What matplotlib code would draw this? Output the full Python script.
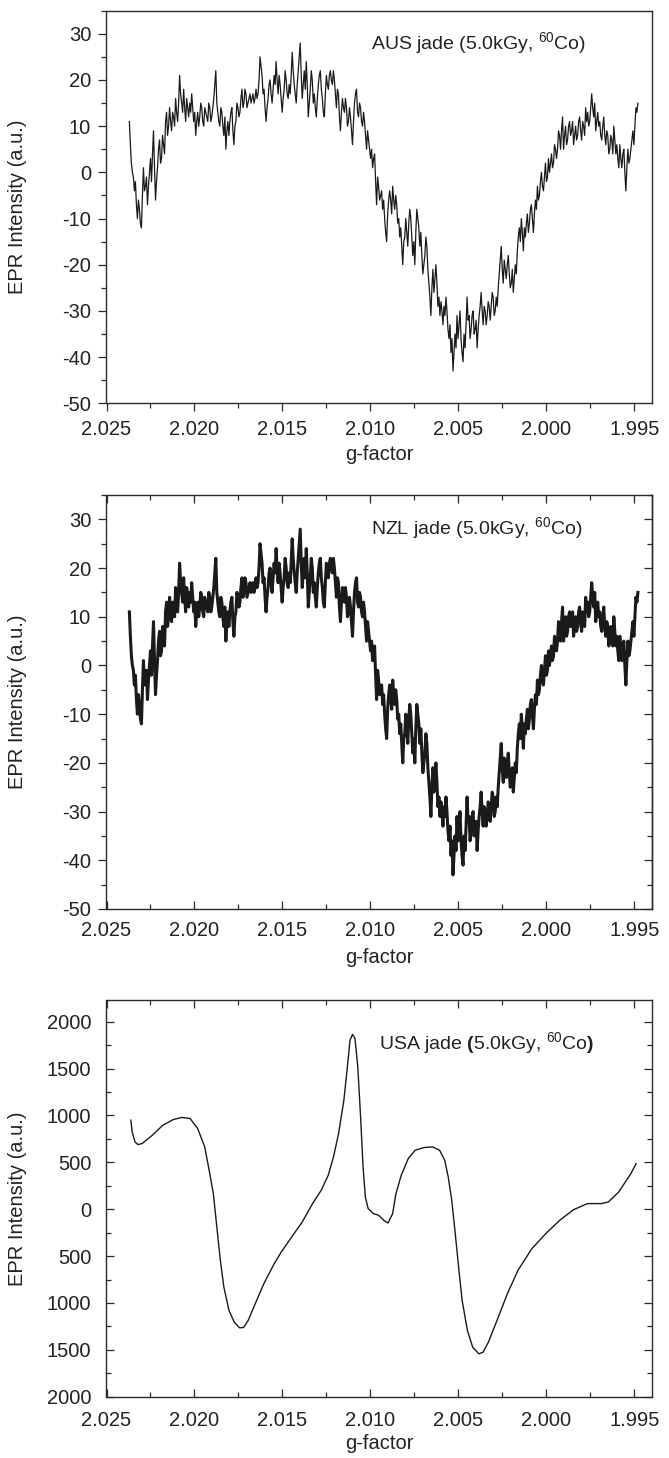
import matplotlib
matplotlib.use('Agg')
import matplotlib.pyplot as plt
import numpy as np
from matplotlib.ticker import MultipleLocator, FixedLocator, FixedFormatter

plt.rcParams['font.family'] = ['Liberation Sans', 'DejaVu Sans']
plt.rcParams['mathtext.fontset'] = 'custom'
plt.rcParams['mathtext.rm'] = 'Liberation Sans'
plt.rcParams['mathtext.bf'] = 'Liberation Sans:bold'
plt.rcParams['mathtext.default'] = 'regular'
plt.rcParams['axes.unicode_minus'] = False

# ---------------- data ----------------
# AUS / NZL jade: noisy spectrum, uniformly sampled from g_start to g_end
noisy_g_start = 2.0237
noisy_g_end = 1.9948
aus_intensity = [
    11, 6, 2, 0, -1, -4, -2, -7, -10, -6, -8, -11, -12, -5, 1, -4, -3, -1, -7, -3,
    0, 3, -2, 4, 9, 1, -6, -2, 1, 5, 7, 2, 3, 8, 6, 4, 11, 13, 8, 10,
    14, 11, 9, 13, 12, 10, 16, 13, 11, 15, 21, 17, 15, 13, 18, 14, 11, 16, 14, 12,
    15, 13, 17, 14, 11, 13, 8, 11, 13, 10, 12, 15, 14, 11, 10, 14, 13, 12, 11, 15,
    14, 11, 12, 14, 16, 19, 22, 15, 13, 11, 10, 14, 13, 10, 8, 12, 5, 9, 11, 8,
    11, 13, 14, 9, 6, 10, 11, 15, 14, 12, 13, 16, 18, 14, 15, 18, 17, 14, 15, 16,
    17, 15, 16, 17, 15, 16, 18, 16, 17, 20, 25, 23, 21, 17, 18, 14, 11, 14, 16, 19,
    20, 17, 15, 18, 21, 19, 24, 20, 17, 21, 19, 16, 13, 16, 18, 22, 20, 17, 16, 19,
    17, 21, 26, 22, 19, 17, 15, 19, 22, 25, 28, 21, 16, 19, 22, 18, 24, 19, 12, 15,
    18, 22, 20, 15, 17, 14, 12, 16, 19, 21, 22, 18, 16, 13, 12, 17, 21, 19, 18, 21,
    22, 20, 19, 22, 20, 17, 14, 18, 17, 12, 9, 13, 16, 14, 13, 16, 14, 10, 11, 14,
    12, 9, 6, 11, 15, 17, 18, 13, 12, 15, 14, 11, 10, 13, 11, 8, 5, 9, 7, 5,
    3, 5, 1, 3, 4, -2, -7, -1, -3, -6, -5, -4, -8, -6, -10, -13, -15, -9, -6, -4,
    -6, -9, -3, -6, -8, -5, -7, -11, -10, -14, -12, -16, -20, -15, -14, -10, -13, -16, -11, -8,
    -10, -14, -18, -15, -20, -13, -8, -10, -12, -16, -13, -18, -22, -20, -18, -14, -16, -21, -24, -27,
    -31, -25, -21, -26, -23, -20, -24, -29, -27, -31, -28, -30, -33, -29, -31, -27, -30, -34, -36, -33,
    -39, -36, -43, -39, -35, -38, -31, -36, -33, -30, -36, -39, -41, -35, -38, -33, -27, -32, -31, -36,
    -34, -31, -30, -35, -34, -32, -38, -34, -31, -29, -26, -30, -33, -29, -30, -33, -31, -28, -29, -32,
    -29, -26, -27, -31, -30, -27, -29, -25, -22, -19, -16, -21, -24, -19, -21, -23, -20, -18, -22, -25,
    -24, -21, -26, -23, -20, -22, -17, -14, -12, -15, -10, -13, -17, -12, -14, -11, -9, -13, -11, -8,
    -7, -10, -13, -9, -6, -8, -3, -6, -5, -2, 0, -3, -4, -1, 2, -2, -1, 3, 0, 2,
    4, 1, 2, 6, 5, 3, 5, 9, 8, 5, 9, 12, 5, 8, 10, 6, 7, 10, 11, 8,
    9, 11, 6, 8, 10, 7, 8, 11, 12, 9, 7, 11, 10, 8, 14, 11, 13, 10, 11, 14,
    17, 14, 12, 15, 9, 11, 13, 10, 11, 8, 7, 10, 12, 8, 6, 9, 8, 4, 5, 8,
    7, 4, 10, 7, 4, 6, 3, 1, 6, 3, 1, 4, 5, 0, -4, 1, 5, 2, 3, 5,
    7, 9, 6, 10, 14, 13, 15,
]
nzl_intensity = list(aus_intensity)

# USA jade: smooth spectrum
usa_g = [
    2.02362, 2.02354, 2.02338, 2.02322, 2.02298, 2.02239, 2.02180, 2.02120,
    2.02071, 2.02025, 2.01982, 2.01942, 2.01913, 2.01893, 2.01873, 2.01853,
    2.01833, 2.01804, 2.01774, 2.01744, 2.01721, 2.01695, 2.01655, 2.01606,
    2.01547, 2.01507, 2.01448, 2.01388, 2.01329, 2.01280, 2.01240, 2.01210,
    2.01181, 2.01151, 2.01131, 2.01116, 2.01102, 2.01088, 2.01072, 2.01056,
    2.01042, 2.01029, 2.01013, 2.00983, 2.00953, 2.00924, 2.00900, 2.00874,
    2.00855, 2.00825, 2.00785, 2.00746, 2.00696, 2.00647, 2.00607, 2.00578,
    2.00558, 2.00538, 2.00518, 2.00499, 2.00479, 2.00449, 2.00419, 2.00384,
    2.00360, 2.00330, 2.00281, 2.00222, 2.00162, 2.00083, 2.00004, 1.99925,
    1.99846, 1.99767, 1.99688, 1.99648, 1.99589, 1.99539, 1.99520, 1.99490,
]
usa_intensity = [
    950, 825, 718, 690, 700, 790, 896, 957,
    979, 968, 861, 665, 380, 167, -190, -546,
    -831, -1080, -1205, -1265, -1262, -1187, -1009, -795,
    -581, -457, -297, -137, 60, 202, 362, 558,
    808, 1163, 1519, 1804, 1865, 1823, 1519, 985,
    451, 130, 6, -47, -65, -119, -147, -47,
    167, 362, 541, 629, 658, 665, 629, 522,
    344, 95, -261, -617, -973, -1294, -1472, -1543,
    -1525, -1419, -1187, -902, -653, -421, -261, -119,
    -5, 60, 60, 77, 184, 327, 380, 487,
]

x_ticks = [2.025, 2.020, 2.015, 2.010, 2.005, 2.000, 1.995]
x_tick_labels = ['2.025', '2.020', '2.015', '2.010', '2.005', '2.000', '1.995']
noisy_y_ticks = [-50, -40, -30, -20, -10, 0, 10, 20, 30]
usa_y_ticks = [-2000, -1500, -1000, -500, 0, 500, 1000, 1500, 2000]
usa_y_tick_labels = ['2000', '1500', '1000', '500', '0', '500', '1000', '1500', '2000']

titles = ['AUS jade (5.0kGy, $^{60}$Co)',
          'NZL jade (5.0kGy, $^{60}$Co)',
          r'USA jade $\mathbf{(}$5.0kGy, $^{60}$Co$\mathbf{)}$']

# ---------------- figure ----------------
W, H = 669, 1458
fig = plt.figure(figsize=(W / 100, H / 100), dpi=100)

def rect(left, right, top, bottom):
    return [left / W, 1 - bottom / H, (right - left) / W, (bottom - top) / H]

ax1 = fig.add_axes(rect(106.5, 652, 10.7, 403.3))
ax2 = fig.add_axes(rect(106.5, 652, 495, 909))
ax3 = fig.add_axes(rect(106.5, 652, 1000, 1396.7))

FS = 14.5
line_col = '#1a1a1a'
spine_col = '#2a2a2a'

noisy_g = np.linspace(noisy_g_start, noisy_g_end, len(aus_intensity))
ax1.plot(noisy_g, aus_intensity, color=line_col, lw=0.9)
ax2.plot(noisy_g, nzl_intensity, color=line_col, lw=2.2)
ax3.plot(usa_g, usa_intensity, color=line_col, lw=1.0)

for ax in (ax1, ax2, ax3):
    ax.set_xlim(2.025, 1.994)
    ax.xaxis.set_major_locator(FixedLocator(x_ticks))
    ax.xaxis.set_major_formatter(FixedFormatter(x_tick_labels))
    ax.xaxis.set_minor_locator(MultipleLocator(0.0025))
    for s in ax.spines.values():
        s.set_linewidth(1.0)
        s.set_color(spine_col)
    ax.tick_params(which='both', labelsize=FS, width=0.9, color=spine_col,
                   labelcolor='#222222')
    ax.tick_params(which='major', length=6)
    ax.tick_params(which='minor', length=3.5)
    ax.set_xlabel('g-factor', fontsize=FS, color='#222222')
    ax.set_ylabel('EPR Intensity (a.u.)', fontsize=FS, color='#222222')
    ax.yaxis.set_label_coords(-0.145, 0.5)

for ax in (ax1, ax2):
    ax.set_ylim(-50, 35)
    ax.yaxis.set_major_locator(FixedLocator(noisy_y_ticks))
    ax.yaxis.set_minor_locator(MultipleLocator(5))

# panel 1: outward ticks on left/bottom only
ax1.tick_params(which='both', direction='out', top=False, right=False)
ax1.tick_params(axis='x', which='major', pad=6)
ax1.tick_params(axis='y', which='major', pad=5)
ax1.xaxis.set_label_coords(0.5, -0.105)

# panel 2: left outward, bottom/top inward, right inward
ax2.tick_params(axis='x', which='both', direction='in', top=True, bottom=True)
ax2.tick_params(axis='x', which='major', pad=9)
ax2.tick_params(axis='y', which='both', direction='out', left=True, right=False)
ax2.tick_params(axis='y', which='major', pad=5)
sec = ax2.secondary_yaxis('right')
sec.yaxis.set_major_locator(FixedLocator(noisy_y_ticks))
sec.yaxis.set_minor_locator(MultipleLocator(5))
sec.tick_params(which='both', direction='in', labelright=False, width=0.9, color=spine_col)
sec.tick_params(which='major', length=6)
sec.tick_params(which='minor', length=3.5)
sec.spines['right'].set_linewidth(1.0)
sec.spines['right'].set_color(spine_col)
ax2.xaxis.set_label_coords(0.5, -0.095)

# panel 3: all inward
ax3.set_ylim(-2000, 2232)
ax3.yaxis.set_major_locator(FixedLocator(usa_y_ticks))
ax3.yaxis.set_major_formatter(FixedFormatter(usa_y_tick_labels))
ax3.yaxis.set_minor_locator(MultipleLocator(250))
ax3.tick_params(which='both', direction='in', top=True, right=True)
ax3.tick_params(axis='x', which='major', pad=10)
ax3.tick_params(axis='y', which='major', pad=11)
ax3.xaxis.set_label_coords(0.5, -0.095)

ax1.text(0.485, 0.918, titles[0], transform=ax1.transAxes, fontsize=14,
         va='center', ha='left', color='#222222')
ax2.text(0.485, 0.920, titles[1], transform=ax2.transAxes, fontsize=14,
         va='center', ha='left', color='#222222')
ax3.text(0.500, 0.892, titles[2], transform=ax3.transAxes, fontsize=14,
         va='center', ha='left', color='#222222')

fig.savefig('out.png', dpi=100)
